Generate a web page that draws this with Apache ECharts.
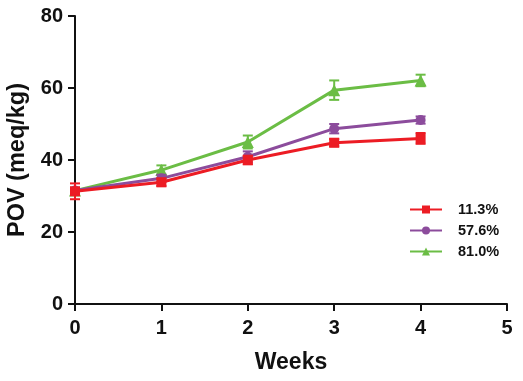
<!DOCTYPE html>
<html><head><meta charset="utf-8">
<script src="https://cdn.jsdelivr.net/npm/echarts@6/dist/echarts.min.js"></script>
<style>html,body{margin:0;padding:0;background:#fff}#c{width:523px;height:381px}</style>
</head><body><div id="c"></div>
<script>
const weeks = [0, 1, 2, 3, 4];
const seriesNames = ['11.3%', '57.6%', '81.0%'];
const red = [31.3, 33.8, 40.0, 44.8, 46.0];
const redErr = [2.2, 1.0, 1.2, 1.0, 1.5];
const purple = [31.5, 34.9, 40.9, 48.7, 51.1];
const purpleErr = [0.8, 1.0, 1.5, 1.3, 1.0];
const green = [31.5, 37.2, 45.0, 59.4, 62.1];
const greenErr = [0.8, 1.3, 1.8, 2.7, 1.6];
const colors = ['#EC1C24', '#8C4C9C', '#6BBD45'];
const symbols = ['rect', 'circle', 'triangle'];
const values = [red, purple, green];
const errs = [redErr, purpleErr, greenErr];

const font = 'Liberation Sans, Arial, sans-serif';
const series = [];
for (let i = 0; i < 3; i++) {
  series.push({
    name: seriesNames[i], type: 'line',
    data: weeks.map((w, j) => [w, values[i][j]]),
    symbol: symbols[i], symbolSize: i === 2 ? 12 : 10,
    lineStyle: { width: 3, color: colors[i] },
    itemStyle: { color: colors[i] },
    z: 10 - i * 2 + 1
  });
  series.push({
    type: 'custom', z: 10 - i * 2,
    data: weeks.map((w, j) => [w, values[i][j] - errs[i][j], values[i][j] + errs[i][j]]),
    renderItem: function (params, api) {
      const lo = api.coord([api.value(0), api.value(1)]);
      const hi = api.coord([api.value(0), api.value(2)]);
      const hw = 5;
      const st = { stroke: colors[i], lineWidth: 2 };
      return { type: 'group', children: [
        { type: 'line', shape: { x1: lo[0], y1: lo[1], x2: hi[0], y2: hi[1] }, style: st },
        { type: 'line', shape: { x1: lo[0] - hw, y1: lo[1], x2: lo[0] + hw, y2: lo[1] }, style: st },
        { type: 'line', shape: { x1: hi[0] - hw, y1: hi[1], x2: hi[0] + hw, y2: hi[1] }, style: st }
      ]};
    },
    silent: true
  });
}

const chart = echarts.init(document.getElementById('c'));
chart.setOption({
  animation: false,
  backgroundColor: '#fff',
  grid: { left: 75, right: 16, top: 16, bottom: 77, containLabel: false, outerBoundsMode: 'none' },
  legend: {
    data: seriesNames, orient: 'vertical', left: 404, top: 197,
    itemWidth: 32, itemHeight: 10, itemGap: 6,
    textStyle: { fontFamily: font, fontWeight: 'bold', fontSize: 14.5, color: '#111', padding: [0,0,0,11] }
  },
  xAxis: {
    type: 'value', min: 0, max: 5, interval: 1,
    name: 'Weeks', nameLocation: 'middle', nameGap: 47,
    nameTextStyle: { fontFamily: font, fontWeight: 'bold', fontSize: 23, color: '#111' },
    axisLine: { lineStyle: { color: '#111', width: 2 } },
    axisTick: { show: true, length: 7, lineStyle: { color: '#111', width: 2 } },
    axisLabel: { fontFamily: font, fontWeight: 'bold', fontSize: 20, color: '#111', margin: 14 },
    splitLine: { show: false }
  },
  yAxis: {
    type: 'value', min: 0, max: 80, interval: 20,
    name: 'POV (meq/kg)', nameLocation: 'middle', nameGap: 45,
    nameTextStyle: { fontFamily: font, fontWeight: 'bold', fontSize: 23.5, color: '#111' },
    axisLine: { show: true, lineStyle: { color: '#111', width: 2 } },
    axisTick: { show: true, length: 7, lineStyle: { color: '#111', width: 2 } },
    axisLabel: { fontFamily: font, fontWeight: 'bold', fontSize: 20, color: '#111', margin: 12 },
    splitLine: { show: false }
  },
  series: series
});
</script></body></html>
